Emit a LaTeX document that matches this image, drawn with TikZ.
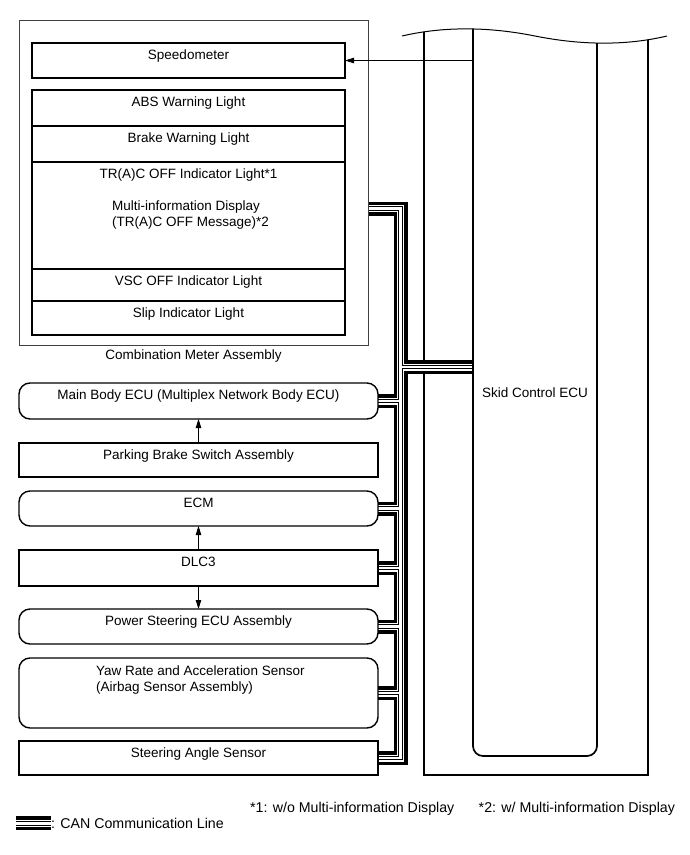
\documentclass[tikz,border=0pt]{standalone}
\usepackage{fontspec}
\setmainfont{Liberation Sans}
\usetikzlibrary{arrows.meta,positioning,calc}
\pgfdeclarelayer{bg}
\pgfsetlayers{bg,main}

\begin{document}
\begin{tikzpicture}[x=1pt,y=-1pt,>={Triangle[length=9pt,width=5.5pt]},
  every node/.style={font=\fontsize{13.5}{16}\selectfont},
  unit/.style={draw,line width=1.4pt,inner sep=0pt,outer sep=0pt,minimum width=359pt,text height=16.5pt,text depth=#1pt},
  ecu/.style={unit=#1,rounded corners=11pt},
  cell/.style={unit=#1,minimum width=313pt},
  txt/.style={inner sep=0pt,align=left},
  note/.style={inner sep=0pt,font=\fontsize{14.2}{16}\selectfont},
  canbus/.style={line width=14pt,line join=miter,
    postaction={draw,white,line width=7pt,line join=miter},
    postaction={draw,black,line width=4.6pt,line join=miter},
    postaction={draw,white,line width=2.4pt,line join=miter}}]
\useasboundingbox (0,0) rectangle (690,855);

% combination meter
\node[draw=black!75,line width=.9pt,inner sep=0pt,outer sep=0pt,minimum width=349pt,minimum height=325pt,anchor=north west] (meter) at (19,20) {};
\node[below=5pt of meter,inner sep=0pt] (meterlbl) {Combination Meter Assembly};
\node[cell=18.5,anchor=north west] (speedo) at (32,43) {Speedometer};
\node[cell=19.5,below=12pt of speedo] (abs) {ABS Warning Light};
\node[cell=19.5,below=0pt of abs] (brake) {Brake Warning Light};
\node[cell=90.5,below=0pt of brake] (tracoff) {TR(A)C OFF Indicator Light*1};
\node[txt,anchor=north west] (mid) at ([xshift=80pt,yshift=-39pt]tracoff.north west) {Multi-information Display\\ (TR(A)C OFF Message)*2};
\node[cell=15.5,below=0pt of tracoff] (vscoff) {VSC OFF Indicator Light};
\node[cell=17.5,below=0pt of vscoff] (slip) {Slip Indicator Light};

% other units
\node[ecu=19.5,anchor=north west] (mainbody) at (19,383) {Main Body ECU (Multiplex Network Body ECU)};
\node[unit=17.5,below=24pt of mainbody] (park) {Parking Brake Switch Assembly};
\node[ecu=18.5,below=14pt of park] (ecm) {ECM};
\node[unit=19.5,below=24pt of ecm] (dlc) {DLC3};
\node[ecu=18.5,below=23pt of dlc] (pseps) {Power Steering ECU Assembly};
\node[ecu=53.5,below=14pt of pseps] (yaw) {};
\node[txt,anchor=north west] (yawtxt) at ([xshift=77pt,yshift=-8pt]yaw.north west) {Yaw Rate and Acceleration Sensor\\(Airbag Sensor Assembly)};
\node[unit=17.5,below=13pt of yaw] (sas) {Steering Angle Sensor};

% skid control ECU
\node[inner sep=0pt,outer sep=0pt,minimum width=124pt,minimum height=726pt] (skid) at (535,393) {Skid Control ECU};
\begin{scope}
\clip (402,36) .. controls (445,26) and (490,27) .. (535,36) .. controls (580,45) and (625,46) .. (667,36) -- (667,800) -- (402,800) -- cycle;
\draw[line width=1.7pt,rounded corners=10pt] (skid.west |- 0,0) -- (skid.south west) -- (skid.south east) -- (skid.east |- 0,0);
\end{scope}

\draw[->,line width=.8pt] (skid.west |- speedo.east) -- (speedo.east);
\draw[->,line width=.8pt] (park.north) -- (mainbody.south);
\draw[->,line width=.8pt] (dlc.north) -- (ecm.south);
\draw[->,line width=.8pt] (dlc.south) -- (pseps.north);

% CAN bus
\begin{pgfonlayer}{bg}
\begin{scope}
\clip (402,36) .. controls (445,26) and (490,27) .. (535,36) .. controls (580,45) and (625,46) .. (667,36) -- (667,800) -- (402,800) -- cycle;
\draw[line width=1.1pt] (424,0) -- (424,775) -- (648,775) -- (648,0);
\end{scope}
\draw[line width=1pt] (402,36) .. controls (445,26) and (490,27) .. (535,36) .. controls (580,45) and (625,46) .. (667,36);
\coordinate (canm) at (meter.east |- 0,208.5);
\coordinate (trunk) at (400.5,208.5);
\coordinate (canin) at (skid.west |- 0,367);
\draw[canbus] (canm) -- (trunk) -- (trunk |- sas.east) -- (sas.east)
  (trunk |- canin) -- (canin)
  foreach \b in {mainbody,ecm,dlc,pseps,yaw} {(\b.east) -- (trunk |- \b.east)};
\end{pgfonlayer}

% legend
\node[note,anchor=base west] (canleg) at (51,828.5) {: CAN Communication Line};
\draw[canbus] ([xshift=-35pt]canleg.west) -- (canleg.west);
\node[note,anchor=base west] (fn1) at (250,812.5) {*1: w/o Multi-information Display};
\node[note,right=24pt of fn1] (fn2) {*2: w/ Multi-information Display};
\end{tikzpicture}
\end{document}
